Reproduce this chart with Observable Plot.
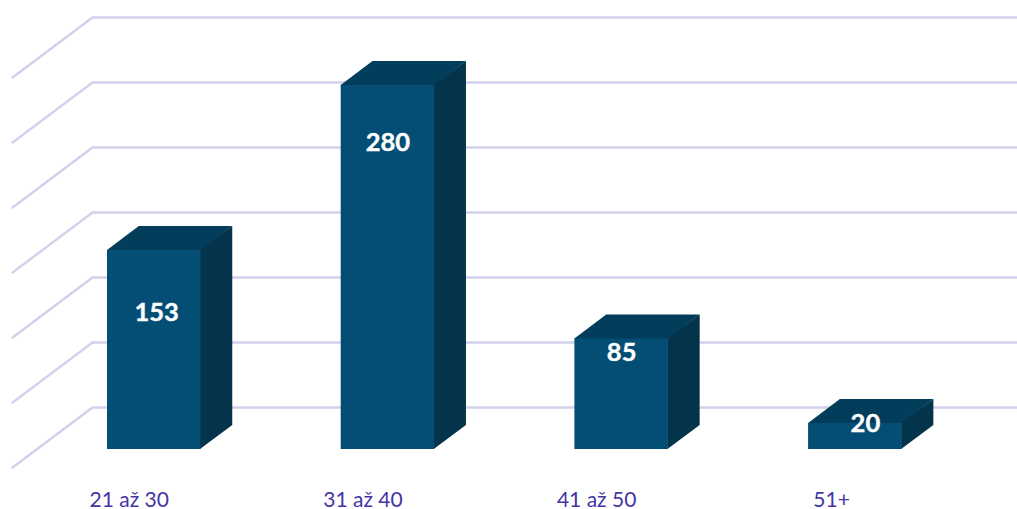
<!DOCTYPE html>
<html>
<head>
<meta charset="utf-8">
<script src="https://cdn.jsdelivr.net/npm/d3@7"></script>
<script src="https://cdn.jsdelivr.net/npm/@observablehq/plot@0.6"></script>
<style>html,body{margin:0;padding:0;background:#fff}svg{display:block}</style>
</head>
<body>
<div id="chart"></div>
<script>
const categories = ["21 až 30", "31 až 40", "41 až 50", "51+"];
const values = [153, 280, 85, 20];
const valueLabelLevels = [105.4, 236, 74, 20];
const valueLabelShifts = [0.01, 0, 0, 0.043];
const categoryLabelShifts = [-0.077, -0.077, -0.077, 0.02];
const gridLevels = [32.3, 82.3, 132.3, 182.3, 232.3, 282.3, 332.3];

const barWidth = 0.4, depthX = 0.136, depthY = 18.5;
const wallX = 0.342, wallY = 46.15;

const gridRows = gridLevels.flatMap(level => [
  {level, x: -0.0642 - wallX, y: level - wallY},
  {level, x: -0.0642, y: level},
  {level, x: 3.894, y: level}
]);
const bars = values.map((v, i) => ({i, v, x1: i, x2: i + barWidth}));
const sideRows = bars.flatMap(b => [
  {i: b.i, x: b.x2 - 0.002, y1: 0, y2: b.v},
  {i: b.i, x: b.x2 + depthX, y1: depthY, y2: b.v + depthY}
]);
const topRows = bars.flatMap(b => [
  {i: b.i, x: b.x1, y1: b.v - 0.4, y2: b.v},
  {i: b.i, x: b.x1 + depthX, y1: b.v - 0.4, y2: b.v + depthY},
  {i: b.i, x: b.x2, y1: b.v - 0.4, y2: b.v + depthY},
  {i: b.i, x: b.x2 + depthX, y1: b.v + depthY, y2: b.v + depthY}
]);
const font = "Lato, 'Open Sans', sans-serif";

const chart = Plot.plot({
  width: 1017, height: 509,
  margin: 0,
  style: {background: "#fff", fontFamily: font},
  x: {type: "linear", domain: [-107 / 233.7, 910 / 233.7], axis: null},
  y: {type: "linear", domain: [-46.15, 345.4], axis: null},
  marks: [
    Plot.line(gridRows, {x: "x", y: "y", z: "level", stroke: "#d2d0ea", strokeWidth: 2.4, curve: "linear"}),
    Plot.areaY(topRows, {x: "x", y1: "y1", y2: "y2", z: "i", fill: "#033d5c", curve: "linear"}),
    Plot.areaY(sideRows, {x: "x", y1: "y1", y2: "y2", z: "i", fill: "#04344b", curve: "linear"}),
    Plot.rect(bars, {x1: "x1", x2: "x2", y1: 0, y2: "v", fill: "#044d74"}),
    Plot.text(bars, {
      x: b => b.i + barWidth / 2 + valueLabelShifts[b.i],
      y: b => valueLabelLevels[b.i],
      text: b => String(b.v),
      fill: "#fff", stroke: "#fff", strokeWidth: 0.4,
      fontSize: 25.5, fontWeight: 700, fontFamily: font
    }),
    Plot.text(categories, {
      x: (c, i) => i + categoryLabelShifts[i],
      y: -39,
      text: c => c,
      textAnchor: "start",
      fill: "#4534a6", fontSize: 21, fontFamily: font
    })
  ]
});
document.getElementById("chart").append(chart);
</script>
</body>
</html>
